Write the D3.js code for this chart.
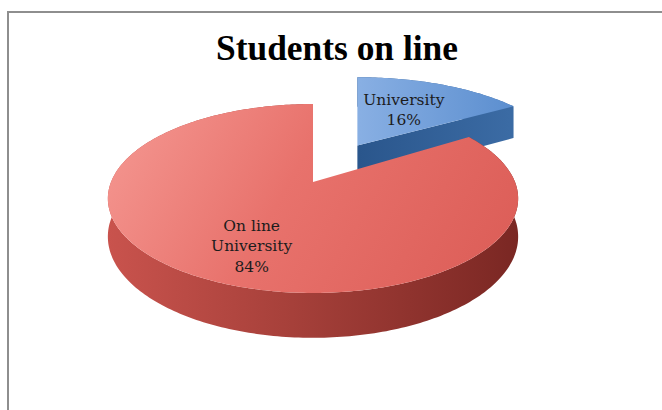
<!DOCTYPE html>
<html>
<head>
<meta charset="utf-8">
<script src="https://cdn.jsdelivr.net/npm/d3@7/dist/d3.min.js"></script>
<style>
  html, body { margin: 0; padding: 0; background: #ffffff; }
  svg { display: block; }
</style>
</head>
<body>
<svg id="chart" width="662" height="410"></svg>
<script>
// ---- data ----
const title = "Students on line";
const categories = ["University", "On line University"];
const values = [16, 84];
const labelLines = [["University"], ["On line", "University"]];
const explodeAmount = [0.49, 0];

// ---- layout ----
const W = 662, H = 410;
const cx = 313, cy = 182;      // projected pie centre
const A = 202, B = 91.6;       // horizontal / vertical radii
const k = 0.1746;              // perspective strength
const depth = 37;              // pie thickness
const labelRadius = 0.6;
const labelNudge = [[-7, 3], [3, 11]];
const lineHeight = 20.5;

const svg = d3.select("#chart");
const defs = svg.append("defs");

function grad(id, x1, y1, x2, y2, stops) {
  const g = defs.append("linearGradient").attr("id", id)
    .attr("gradientUnits", "userSpaceOnUse")
    .attr("x1", x1).attr("y1", y1).attr("x2", x2).attr("y2", y2);
  stops.forEach(([o, c]) => g.append("stop").attr("offset", o).attr("stop-color", c));
}
grad("redTop", 130, 105, 470, 300, [[0, "#f4958f"], [0.45, "#e8726c"], [1, "#dd5f59"]]);
grad("redWall", 107, 0, 518, 0, [[0, "#c9534d"], [0.45, "#a6403a"], [1, "#7a2723"]]);
grad("blueTop", 360, 0, 515, 0, [[0, "#88afe3"], [1, "#5b8ecf"]]);
grad("blueSide", 359, 0, 510, 0, [[0, "#2a568c"], [1, "#3b6ba4"]]);

const fills = [
  { top: "url(#blueTop)", side: "url(#blueSide)" },
  { top: "url(#redTop)", side: "url(#redWall)" }
];

// frame
svg.append("line").attr("x1", 7).attr("y1", 12).attr("x2", W).attr("y2", 12)
  .attr("stroke", "#8e8e8e").attr("stroke-width", 2);
svg.append("line").attr("x1", 8).attr("y1", 11).attr("x2", 8).attr("y2", H)
  .attr("stroke", "#8e8e8e").attr("stroke-width", 2);

// ---- pie angles ----
const pie = d3.pie().sort(null).startAngle(0).endAngle(2 * Math.PI);
const arcs = pie(values).map((d, i) => Object.assign(d, { i }));
const total = d3.sum(values);
const pct = d3.format(".0%");

// perspective projection of a point on the pie's top plane (u right, v away)
function projector(d) {
  const mid = (d.startAngle + d.endAngle) / 2;
  const e = explodeAmount[d.i];
  const eu = e * Math.sin(mid), ev = e * Math.cos(mid);
  const dx = A * eu / (1 + k * ev);
  return function (u, v, z) {
    const w0 = 1 + k * v;
    const V = v + ev, w = 1 + k * V;
    return [cx + A * u / w0 + dx, cy - B * V / w + (z || 0) / w];
  };
}
function arcPoints(P, a0, a1, z) {
  const n = Math.max(6, Math.ceil(Math.abs(a1 - a0) / (Math.PI / 180)));
  return d3.range(n + 1).map(j => {
    const a = a0 + (a1 - a0) * j / n;
    return P(Math.sin(a), Math.cos(a), z);
  });
}
const line = d3.line().curve(d3.curveLinear);
const closed = pts => line(pts) + "Z";

function drawSlice(d) {
  const P = projector(d);
  const f = fills[d.i];
  const g = svg.append("g").attr("class", "slice");
  // outer wall
  const topArc = arcPoints(P, d.startAngle, d.endAngle, 0);
  const botArc = arcPoints(P, d.endAngle, d.startAngle, depth);
  g.append("path").attr("d", closed(topArc.concat(botArc))).attr("fill", f.side);
  // cut face at the end angle
  const ue = Math.sin(d.endAngle), ve = Math.cos(d.endAngle);
  g.append("path").attr("d", closed([P(0, 0, 0), P(ue, ve, 0), P(ue, ve, depth), P(0, 0, depth)]))
    .attr("fill", f.side);
  // top face
  g.append("path").attr("d", closed([P(0, 0, 0)].concat(topArc))).attr("fill", f.top);
  return P;
}

// back slice first, front slice over it
const projectors = [];
[0, 1].forEach(i => { projectors[i] = drawSlice(arcs[i]); });

// ---- labels ----
arcs.forEach(d => {
  const P = projectors[d.i];
  const mid = (d.startAngle + d.endAngle) / 2;
  const c = P(labelRadius * Math.sin(mid), labelRadius * Math.cos(mid), 0);
  const x = c[0] + labelNudge[d.i][0], y = c[1] + labelNudge[d.i][1];
  const lines = labelLines[d.i].concat([pct(d.value / total)]);
  const t = svg.append("text")
    .attr("text-anchor", "middle")
    .attr("font-family", "'DejaVu Serif', serif")
    .attr("font-size", 15.5)
    .attr("fill", "#1c1c1c");
  lines.forEach((s, j) => {
    t.append("tspan").attr("x", x)
      .attr("y", y - (lines.length - 1) * lineHeight / 2 + 5 + j * lineHeight)
      .text(s);
  });
});

// ---- title ----
const tt = svg.append("text")
  .attr("x", 337).attr("y", 60)
  .attr("text-anchor", "middle")
  .attr("font-family", "'Liberation Serif', serif")
  .attr("font-weight", "bold")
  .attr("font-size", 34)
  .attr("fill", "#000")
  .text(title);
const len = tt.node().getComputedTextLength();
tt.attr("font-size", 34 * 242 / len);
</script>
</body>
</html>
